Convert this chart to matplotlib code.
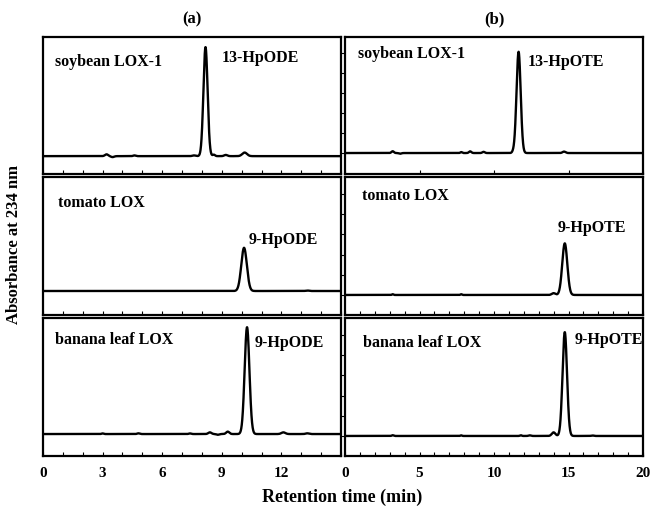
import numpy as np
import matplotlib
matplotlib.use("Agg")
import matplotlib.pyplot as plt
from matplotlib.ticker import MultipleLocator

plt.rcParams['font.family'] = ['Liberation Serif', 'DejaVu Serif']
plt.rcParams['font.weight'] = 'bold'

# Retention time axes (min)
t_a = np.linspace(0, 15, 3000)
t_b = np.linspace(0, 20, 4000)

# Peaks: (retention time, height, width)
# column (a): linoleic acid products
soy_a_peaks = [(3.2, 0.015, 0.08), (3.5, -0.008, 0.08), (4.6, 0.006, 0.06), (7.6, 0.006, 0.08),
               (8.18, 0.915, 0.105), (8.6, 0.012, 0.06), (9.2, 0.01, 0.08), (10.15, 0.03, 0.12)]
soy_a_base = 0.0
tom_a_peaks = [(10.12, 0.36, 0.14), (13.3, 0.004, 0.08)]
tom_a_base = 0.05
ban_a_peaks = [(3.0, 0.005, 0.05), (4.8, 0.006, 0.06), (7.4, 0.005, 0.06), (8.4, 0.014, 0.08),
               (8.8, -0.006, 0.06), (9.3, 0.02, 0.08), (10.27, 0.89, 0.12), (12.1, 0.014, 0.1),
               (13.3, 0.006, 0.08)]
ban_a_base = 0.033

# column (b): linolenic acid products
soy_b_peaks = [(3.2, 0.015, 0.08), (3.7, -0.006, 0.08), (7.8, 0.008, 0.06), (8.4, 0.014, 0.08),
               (9.3, 0.01, 0.08), (11.3, 0.01, 0.08), (11.65, 0.85, 0.14), (14.7, 0.012, 0.1)]
soy_b_base = 0.026
tom_b_peaks = [(3.2, 0.006, 0.05), (7.8, 0.006, 0.05), (14.0, 0.015, 0.12), (14.75, 0.43, 0.17)]
tom_b_base = 0.017
ban_b_peaks = [(3.2, 0.006, 0.06), (7.8, 0.005, 0.05), (11.8, 0.006, 0.06), (12.4, 0.005, 0.08),
               (14.0, 0.03, 0.12), (14.75, 0.865, 0.15), (16.6, 0.004, 0.08)]
ban_b_base = 0.017

left_ticks = [0, 3, 6, 9, 12]
right_ticks = [0, 5, 10, 15, 20]


def trace(t, peaks, base):
    y = np.full_like(t, base)
    for rt, h, w in peaks:
        y += h * np.exp(-0.5 * ((t - rt) / w) ** 2)
    return y


fig = plt.figure(figsize=(6.51, 5.11), dpi=100)

x_left, x_right, width = 43 / 651, 345 / 651, 298 / 651
rows = [(174, 137), (315, 138), (456, 138)]

panels = [
    (x_left, 0, t_a, soy_a_peaks, soy_a_base, 'soybean LOX-1', (0.04, 0.82), '13-HpODE', (0.60, 0.85)),
    (x_left, 1, t_a, tom_a_peaks, tom_a_base, 'tomato LOX', (0.05, 0.81), '9-HpODE', (0.69, 0.54)),
    (x_left, 2, t_a, ban_a_peaks, ban_a_base, 'banana leaf LOX', (0.04, 0.84), '9-HpODE', (0.71, 0.82)),
    (x_right, 0, t_b, soy_b_peaks, soy_b_base, 'soybean LOX-1', (0.044, 0.876), '13-HpOTE', (0.614, 0.82)),
    (x_right, 1, t_b, tom_b_peaks, tom_b_base, 'tomato LOX', (0.057, 0.862), '9-HpOTE', (0.715, 0.63)),
    (x_right, 2, t_b, ban_b_peaks, ban_b_base, 'banana leaf LOX', (0.06, 0.82), '9-HpOTE', (0.772, 0.84)),
]

for x0, row, t, peaks, base, name, name_xy, prod, prod_xy in panels:
    ybot, h = rows[row]
    ax = fig.add_axes([x0, 1 - ybot / 511, width, h / 511])
    ax.plot(t, trace(t, peaks, base), color='black', lw=1.7)
    ax.set_xlim(t[0], t[-1])
    ax.set_ylim(-0.15, 1.0)
    for s in ax.spines.values():
        s.set_linewidth(1.6)
    is_left = x0 == x_left
    ax.xaxis.set_major_locator(MultipleLocator(3 if is_left else 5))
    if not (row == 0 and not is_left):
        ax.xaxis.set_minor_locator(MultipleLocator(1))
    ax.tick_params(axis='x', which='both', direction='in', length=3, width=0.8, top=False)
    if is_left:
        ax.set_yticks([])
    else:
        ax.set_yticks(np.arange(base, 1.0, 0.168))
        ax.tick_params(axis='y', direction='out', length=3, width=0.8, labelleft=False)
    if row == 2:
        ax.set_xticks(left_ticks if is_left else right_ticks)
        ax.set_xticklabels([str(v) for v in (left_ticks if is_left else right_ticks)],
                           fontsize=11, fontweight='bold')
        ax.tick_params(axis='x', pad=8)
    else:
        ax.tick_params(axis='x', labelbottom=False)
    ax.text(*name_xy, name, transform=ax.transAxes, fontsize=11.5, fontweight='bold',
            va='center', ha='left')
    ax.text(*prod_xy, prod, transform=ax.transAxes, fontsize=11.5, fontweight='bold',
            va='center', ha='left')
    if row == 0:
        ax.set_title('(a)' if is_left else '(b)', fontsize=12, fontweight='bold', pad=10)

fig.text(342 / 651, 1 - 497 / 511, 'Retention time (min)', fontsize=13, fontweight='bold',
         ha='center', va='center')
fig.text(14 / 651, 1 - 245 / 511, 'Absorbance at 234 nm', fontsize=12, fontweight='bold',
         ha='center', va='center', rotation=90)

fig.savefig('out.png', dpi=100)
